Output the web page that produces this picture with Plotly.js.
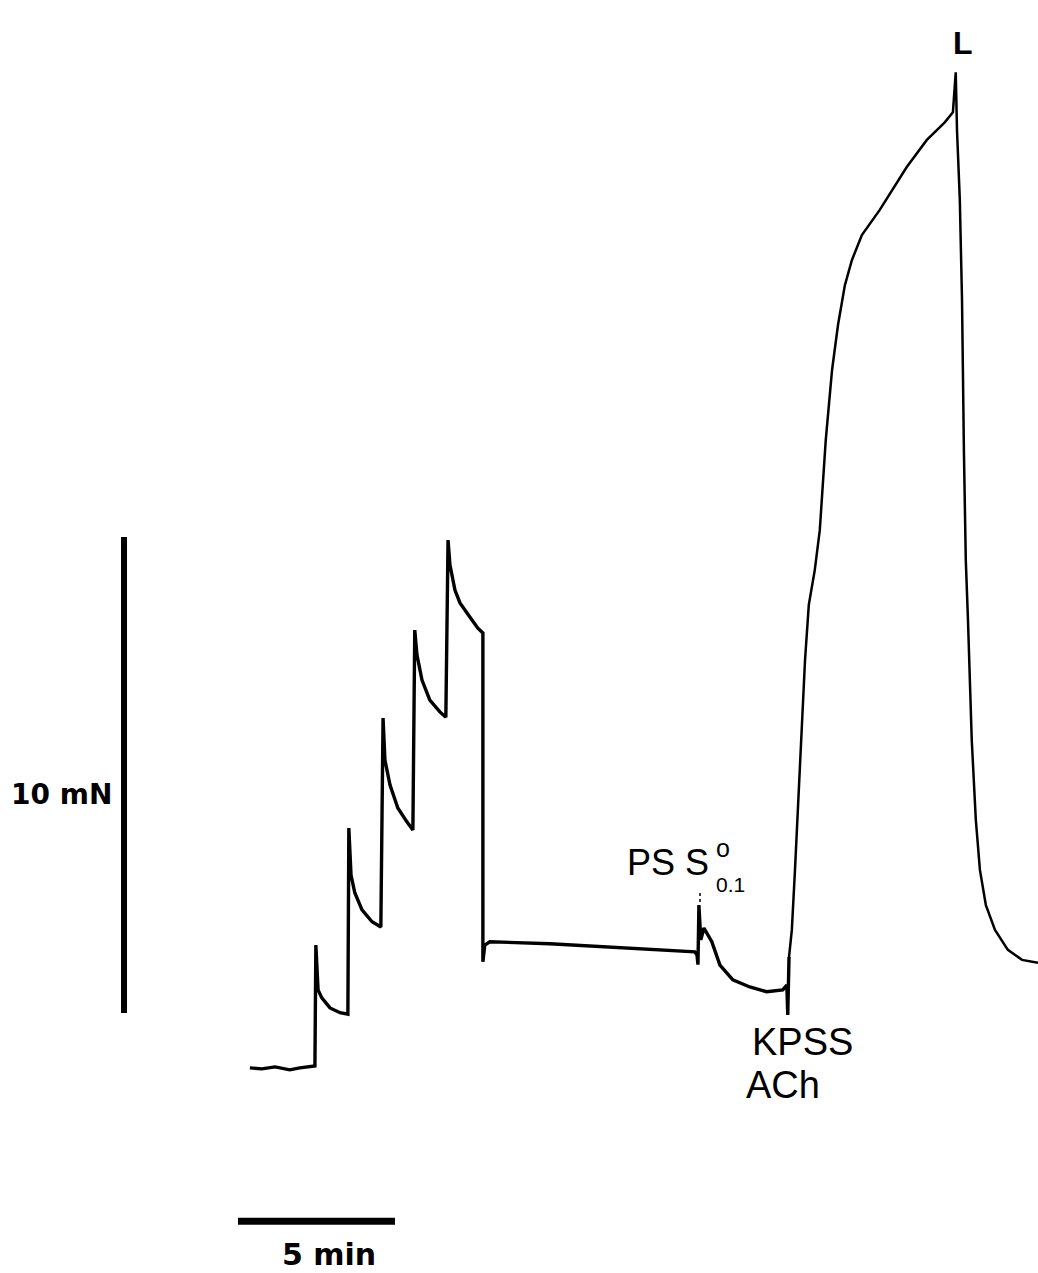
<!DOCTYPE html>
<html>
<head>
<meta charset="utf-8">
<script src="https://cdn.plot.ly/plotly-3.0.1.min.js"></script>
<style>html,body{margin:0;padding:0;background:#fff;}#chart{width:1038px;height:1273px;}</style>
</head>
<body>
<div id="chart"></div>
<script>
// Tension trace: time (min) and tension (mN), read from the recording
const timeMin = [
  0, 0.38, 0.80, 1.27, 1.59, 1.97,
  2.07, 2.10, 2.17, 2.29, 2.55, 2.87, 3.12,
  3.15, 3.22, 3.34, 3.57, 3.89, 4.17,
  4.24, 4.30, 4.46, 4.71, 5.00, 5.19,
  5.25, 5.32, 5.48, 5.73, 6.05, 6.24,
  6.31, 6.37, 6.53, 6.69, 7.01, 7.26, 7.42,
  7.42, 7.48, 7.64, 9.55, 11.78, 14.17,
  14.24, 14.27, 14.30, 14.36, 14.46, 14.71, 14.97, 15.38, 15.92, 16.46, 16.97, 17.10,
  17.13, 17.17, 17.26, 17.36, 17.52, 17.68, 17.80, 17.99, 18.15, 18.34, 18.54, 18.73, 18.95, 19.17, 19.49, 20.06, 20.92, 21.56, 22.13, 22.39,
  22.48, 22.52, 22.61, 22.68, 22.74, 22.80, 22.87, 22.99, 23.12, 23.25, 23.44, 23.73, 24.14, 24.59, 25.10
];
const tensionMN = [
  0, -0.02, 0.02, -0.04, 0, 0.02,
  0.04, 2.58, 1.64, 1.47, 1.26, 1.16, 1.13,
  5.04, 4.05, 3.68, 3.32, 3.07, 2.96,
  7.35, 6.47, 5.95, 5.46, 5.17, 5.00,
  9.20, 8.68, 8.15, 7.73, 7.48, 7.37,
  11.09, 10.57, 10.04, 9.77, 9.47, 9.24, 9.14,
  2.23, 2.58, 2.65, 2.61, 2.52, 2.44,
  2.37, 2.17, 3.42, 2.69, 2.94, 2.65, 2.16, 1.85, 1.70, 1.60, 1.64, 1.74,
  1.11, 2.33, 2.90, 4.16, 6.47, 8.57, 9.73, 10.46, 11.30, 13.19, 14.66, 15.61, 16.45, 16.97, 17.50, 18.03, 18.93, 19.50, 19.87, 20.08,
  20.92, 19.71, 18.24, 16.13, 12.98, 10.67, 9.41, 6.89, 5.21, 4.16, 3.42, 2.90, 2.48, 2.27, 2.21
];
// Calibration bars
const forceBarX = [-4.01, -4.01];
const forceBarY = [1.155, 11.155];   // 10 mN
const timeBarX = [-0.38, 4.62];      // 5 min
const timeBarY = [-3.22, -3.22];

// split point: KPSS/ACh contraction drawn with a finer pen stroke
const split = timeMin.indexOf(17.17);

const traces = [
  {x: timeMin.slice(0, split + 1), y: tensionMN.slice(0, split + 1), mode: 'lines',
   line: {color: '#000', width: 3.4}, hoverinfo: 'skip'},
  {x: timeMin.slice(split), y: tensionMN.slice(split), mode: 'lines',
   line: {color: '#000', width: 2.5}, hoverinfo: 'skip'},
  {x: forceBarX, y: forceBarY, mode: 'lines', line: {color: '#000', width: 6}, hoverinfo: 'skip'},
  {x: timeBarX, y: timeBarY, mode: 'lines', line: {color: '#000', width: 7}, hoverinfo: 'skip'}
];

const F = 'Liberation Sans, Arial, sans-serif';
const FB = 'DejaVu Sans, sans-serif';
const ann = (text, x, y, size, xa, fam) => ({
  text: text, xref: 'paper', yref: 'paper', x: x, y: y, showarrow: false,
  xanchor: xa || 'center', yanchor: 'middle', borderpad: 0,
  font: {family: fam || F, size: size, color: '#000'}
});

const layout = {
  width: 1038, height: 1273,
  margin: {l: 0, r: 0, t: 0, b: 0},
  paper_bgcolor: '#fff', plot_bgcolor: '#fff',
  showlegend: false,
  xaxis: {range: [-7.96, 25.1], visible: false, fixedrange: true},
  yaxis: {range: [-4.31, 22.44], visible: false, fixedrange: true},
  annotations: [
    ann('<b>10 mN</b>', 0.109, 0.376, 28, 'right', FB),
    ann('<b>5 min</b>', 0.3165, 0.0145, 30, 'center', FB),
    ann('<b>L</b>', 0.9275, 0.966, 32),
    ann('KPSS', 0.7235, 0.1815, 38, 'left'),
    ann('ACh', 0.7177, 0.148, 38, 'left'),
    ann('PS S', 0.6035, 0.3225, 36, 'left'),
    ann('o', 0.6885, 0.3335, 25, 'left'),
    ann('0.1', 0.6885, 0.3055, 21, 'left')
  ],
  shapes: [
    {type: 'line', xref: 'paper', yref: 'paper', x0: 0.6744, x1: 0.6744, y0: 0.2915, y1: 0.3005,
     line: {color: '#000', width: 1.5, dash: 'dot'}}
  ]
};

Plotly.newPlot('chart', traces, layout, {staticPlot: true, displayModeBar: false});
</script>
</body>
</html>
